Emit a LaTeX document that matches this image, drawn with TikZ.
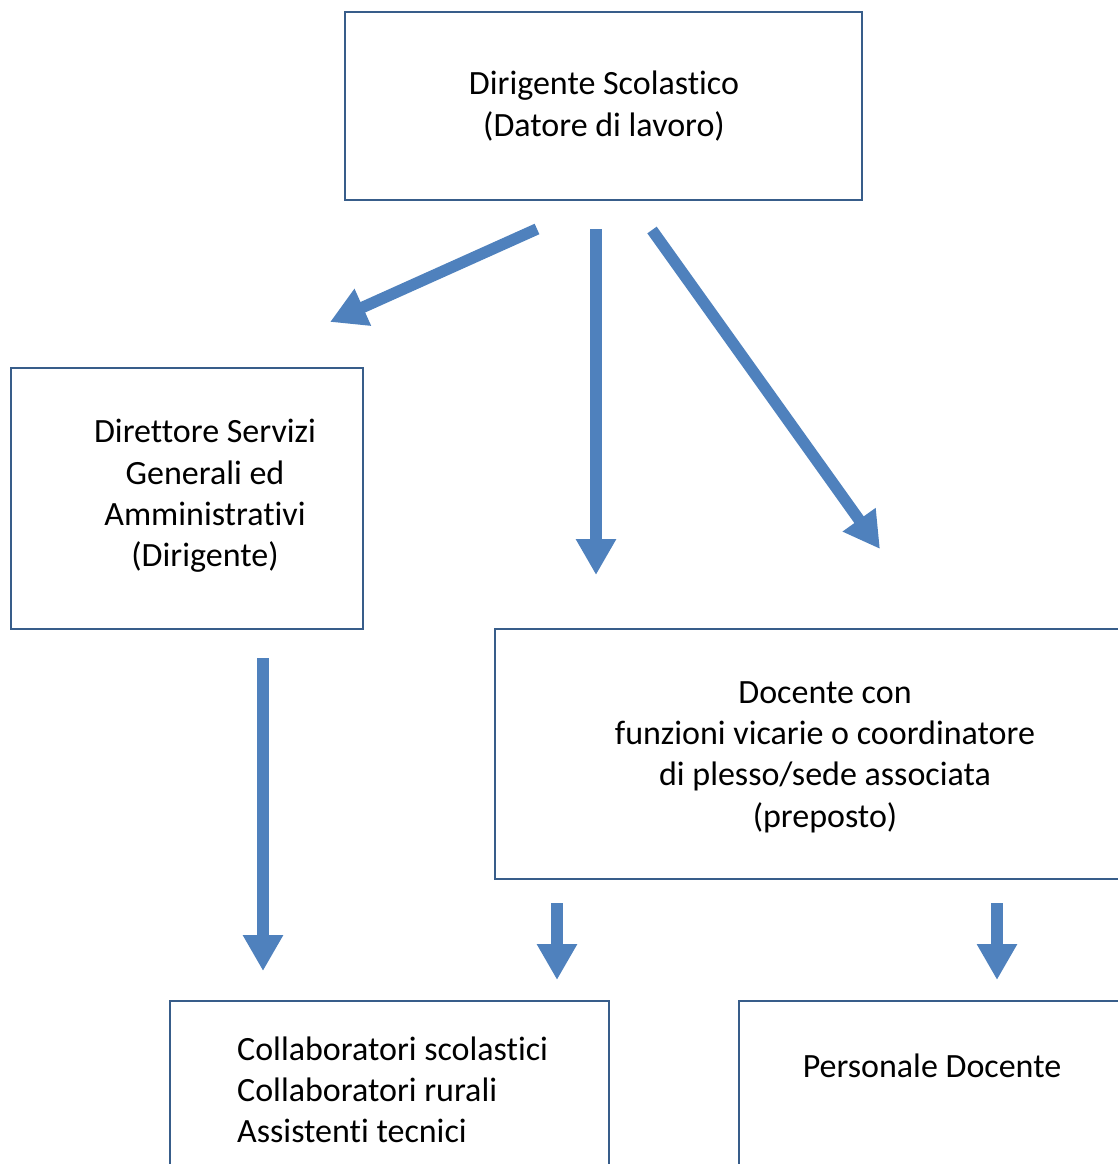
\documentclass[tikz,border=0pt]{standalone}
\usepackage{fontspec}
\setmainfont{Carlito}[Ligatures=NoCommon]
\usetikzlibrary{arrows.meta}
\definecolor{boxline}{HTML}{385D8A}
\definecolor{arrowblue}{HTML}{4F81BD}
\begin{document}
\begin{tikzpicture}[x=1pt,y=-1pt,
  box/.style={draw=boxline,line width=2.2pt,inner sep=0pt,outer sep=0pt,anchor=north west},
  lbl/.style={font=\fontsize{34}{41.3}\selectfont,align=center,inner sep=0pt,text=black},
  bigarrow/.style={draw=arrowblue,line width=11.5pt,-{Triangle[width=38pt,length=36pt]}}
]
\useasboundingbox (0,0) rectangle (1118,1164);
\clip (0,0) rectangle (1118,1164);
% boxes
\node[box,minimum width=517pt,minimum height=188pt] (ds) at (345,12) {};
\node[box,minimum width=352pt,minimum height=261pt] (dsga) at (11,368) {};
\node[box,minimum width=640pt,minimum height=250pt] (doc) at (495,629) {};
\node[box,minimum width=439pt,minimum height=200pt] (col) at (170,1001) {};
\node[box,minimum width=400pt,minimum height=200pt] (pers) at (739,1001) {};
% labels
\node[lbl] (tds) at (604,106) {Dirigente Scolastico\\(Datore di lavoro)};
\node[lbl] (tdsga) at (205,496) {Direttore Servizi\\Generali ed\\Amministrativi\\(Dirigente)};
\node[lbl] (tdoc) at (825,757) {Docente con\\funzioni vicarie o coordinatore\\di plesso/sede associata\\(preposto)};
\node[lbl,align=left,anchor=west] (tcol) at (237,1090) {Collaboratori scolastici\\Collaboratori rurali\\Assistenti tecnici};
\node[lbl] (tpers) at (932,1066) {Personale Docente};
% arrow ends
\coordinate (a1s) at (537,229); \coordinate (a1e) at (330,322);
\coordinate (a2s) at (596,229); \coordinate (a2e) at (596,575);
\coordinate (a3s) at (652,230); \coordinate (a3e) at (880,549);
\coordinate (a4s) at (263,658); \coordinate (a4e) at (263,971);
\coordinate (a5s) at (557,903); \coordinate (a5e) at (557,980);
\coordinate (a6s) at (997,903); \coordinate (a6e) at (997,980);
\draw[bigarrow] (a1s) -- (a1e);
\draw[bigarrow] (a2s) -- (a2e);
\draw[bigarrow] (a3s) -- (a3e);
\draw[bigarrow] (a4s) -- (a4e);
\draw[bigarrow] (a5s) -- (a5e);
\draw[bigarrow] (a6s) -- (a6e);
\end{tikzpicture}
\end{document}
